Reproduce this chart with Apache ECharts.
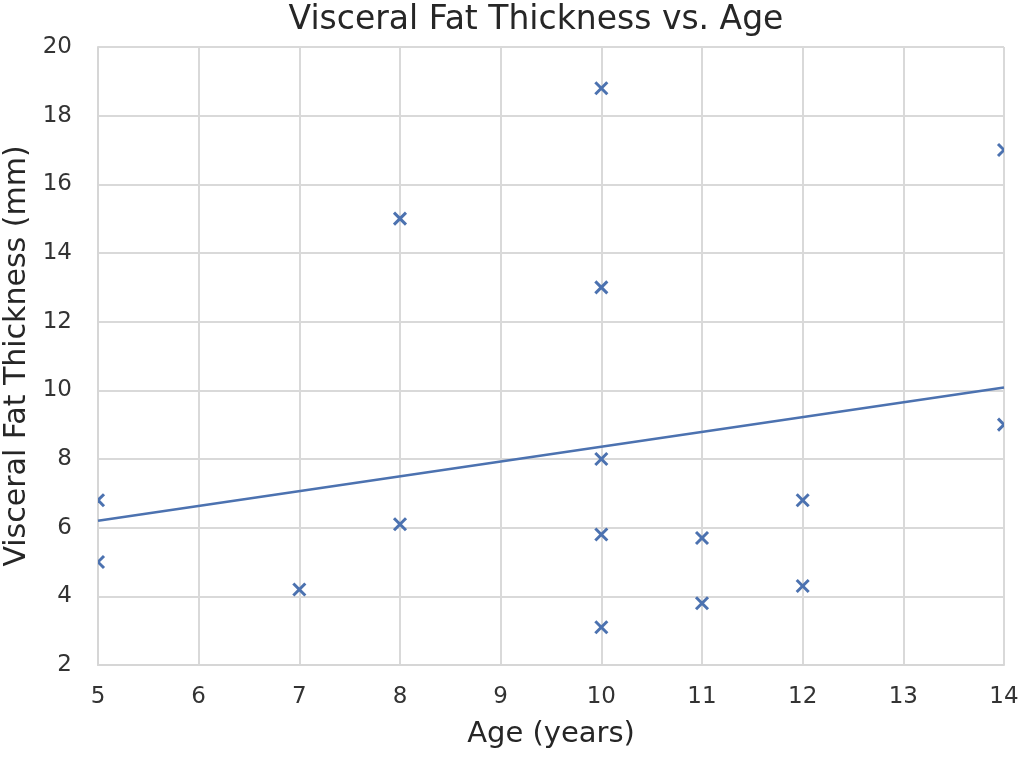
<!DOCTYPE html>
<html>
<head>
<meta charset="utf-8">
<script src="https://cdn.jsdelivr.net/npm/echarts@6/dist/echarts.min.js"></script>
<style>
  html, body { margin: 0; padding: 0; background: #fff; }
  #main { width: 1024px; height: 769px; }
</style>
</head>
<body>
<div id="main"></div>
<script>
// data
var ages = [5, 5, 7, 8, 8, 10, 10, 10, 10, 10, 11, 11, 12, 12, 14, 14]
var fat = [6.8, 5.0, 4.2, 15.0, 6.1, 18.8, 13.0, 8.0, 5.8, 3.1, 5.7, 3.8, 6.8, 4.3, 17.0, 9.0]
var trendAges = [5, 14]
var trendFat = [6.2, 10.08]

var blue = '#4c72b0'
var font = 'DejaVu Sans'

var points = []
for (var i = 0; i < ages.length; i++) {
    points.push([ages[i], fat[i]])
}
var trend = []
for (var j = 0; j < trendAges.length; j++) {
    trend.push([trendAges[j], trendFat[j]])
}

var mCharts = echarts.init(document.getElementById('main'))
var option = {
    backgroundColor: '#fff',
    animation: false,
    title: {
        text: 'Visceral Fat Thickness vs. Age',
        left: 531,
        textAlign: 'center',
        top: -1,
        textStyle: { fontFamily: font, fontSize: 33, fontWeight: 'normal', color: '#262626' }
    },
    grid: { left: 98, right: 20, top: 47, bottom: 104, outerBoundsMode: 'none', containLabel: false },
    xAxis: {
        type: 'value',
        min: 5, max: 14, interval: 1,
        name: 'Age (years)',
        nameLocation: 'middle',
        nameGap: 55,
        nameTextStyle: { fontFamily: font, fontSize: 29, color: '#262626' },
        axisLine: { show: true, lineStyle: { color: '#d6d6d6', width: 2 } },
        axisTick: { show: false },
        axisLabel: { fontFamily: font, fontSize: 23, color: '#333', margin: 21 },
        splitLine: { show: true, lineStyle: { color: '#d9d9d9', width: 2 } }
    },
    yAxis: {
        type: 'value',
        min: 2, max: 20, interval: 2,
        name: 'Visceral Fat Thickness (mm)',
        nameLocation: 'middle',
        nameGap: 65,
        nameTextStyle: { fontFamily: font, fontSize: 30, color: '#262626' },
        axisLine: { show: true, lineStyle: { color: '#d6d6d6', width: 2 } },
        axisTick: { show: false },
        axisLabel: { fontFamily: font, fontSize: 23, color: '#333', margin: 26 },
        splitLine: { show: true, lineStyle: { color: '#d9d9d9', width: 2 } }
    },
    series: [
        {
            type: 'line',
            data: trend,
            showSymbol: false,
            lineStyle: { color: blue, width: 2.5 },
            z: 2
        },
        {
            type: 'custom',
            data: points,
            z: 3,
            renderItem: function (params, api) {
                var p = api.coord([api.value(0), api.value(1)])
                var s = 6
                var cs = params.coordSys
                return {
                    type: 'group',
                    clipPath: { type: 'rect', shape: { x: cs.x, y: cs.y, width: cs.width, height: cs.height } },
                    children: [
                        { type: 'line', shape: { x1: p[0] - s, y1: p[1] - s, x2: p[0] + s, y2: p[1] + s }, style: { stroke: blue, lineWidth: 3 } },
                        { type: 'line', shape: { x1: p[0] - s, y1: p[1] + s, x2: p[0] + s, y2: p[1] - s }, style: { stroke: blue, lineWidth: 3 } }
                    ]
                }
            }
        }
    ]
}
mCharts.setOption(option)
</script>
</body>
</html>
